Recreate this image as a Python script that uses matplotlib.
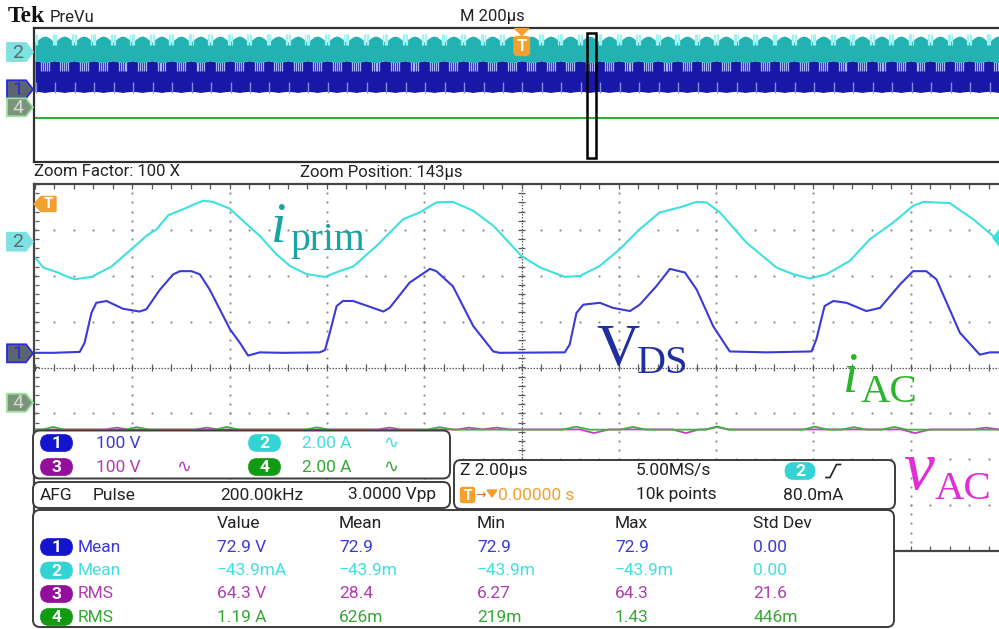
import numpy as np
import matplotlib.pyplot as plt
from matplotlib.patches import FancyBboxPatch, Polygon, Rectangle

UI_FONT = ['Roboto', 'DejaVu Sans']
SERIF = ['Liberation Serif', 'DejaVu Serif']

# channel settings: units per division and ground marker position (divisions from centre)
ch1_scale, ch1_pos = 100.0, 0.32    # V_DS
ch2_scale, ch2_pos = 2.0, 2.76      # i_prim
ch3_scale, ch3_pos = 100.0, -1.35   # v_AC
ch4_scale, ch4_pos = 2.0, -0.76     # i_AC
zoom_tdiv = 2.0                     # us/div in the zoom window

# zoom window traces, time in us from the trigger
vds_t = [-10.04, -9.63, -9.08, -8.98, -8.84, -8.74, -8.53, -8.19, -7.85, -7.71,
         -7.43, -7.16, -7.02, -6.78, -6.61, -6.41, -5.99, -5.79, -5.62, -5.38,
         -4.90, -4.15, -4.04, -3.94, -3.80, -3.67, -3.46, -2.84, -2.71, -2.30,
         -1.88, -1.75, -1.41, -0.99, -0.58, -0.45, 0.89, 0.99, 1.13, 1.27,
         1.61, 1.88, 2.23, 2.43, 2.77, 3.05, 3.36, 3.60, 3.94, 4.28,
         5.04, 5.96, 6.06, 6.23, 6.41, 6.68, 7.09, 7.37, 7.78, 8.05,
         8.32, 8.53, 9.01, 9.42, 9.63, 9.83]
vds_v = [0, 0, 2, 22, 87, 109, 113, 96, 90, 95,
         138, 171, 178, 178, 171, 138, 51, 22, -6, 1,
         0, 1, 6, 44, 102, 113, 113, 90, 98, 153,
         183, 178, 145, 58, 3, 0, 1, 18, 87, 105,
         109, 98, 91, 105, 145, 183, 175, 138, 58, 3,
         1, 3, 29, 102, 113, 109, 91, 98, 149, 178,
         178, 160, 44, -4, 1, 1]

iprim_t = [-10.04, -9.83, -9.53, -9.35, -9.18, -8.84, -8.43, -7.98, -7.71, -7.50,
           -7.26, -6.92, -6.72, -6.54, -6.34, -6.00, -5.65, -5.38, -5.04, -4.76,
           -4.42, -4.04, -3.73, -3.46, -2.98, -2.43, -2.09, -1.75, -1.41, -0.99,
           -0.58, -0.45, 0.00, 0.38, 0.89, 1.20, 1.61, 2.02, 2.43, 2.84,
           3.25, 3.60, 3.80, 4.08, 4.62, 5.24, 5.58, 5.93, 6.27, 6.75,
           7.16, 7.64, 8.05, 8.26, 8.80, 9.28, 9.69, 9.83]
iprim_a = [-0.62, -1.16, -1.38, -1.55, -1.67, -1.57, -1.12, -0.29, 0.22, 0.51,
           1.12, 1.41, 1.60, 1.75, 1.70, 1.41, 0.73, 0.22, -0.58, -1.09,
           -1.45, -1.57, -1.31, -1.12, -0.22, 0.95, 1.24, 1.68, 1.70, 1.31,
           0.66, 0.37, -0.66, -1.16, -1.57, -1.53, -1.09, -0.36, 0.51, 1.24,
           1.46, 1.70, 1.68, 1.24, -0.07, -1.16, -1.45, -1.64, -1.45, -0.87,
           0.07, 0.80, 1.53, 1.70, 1.65, 0.95, 0.22, 0.07]

iac_t = [-10.0, -9.85, -9.63, -9.4, -8.15, -7.91, -7.65, -6.3, -6.06, -5.8,
         -4.45, -4.21, -3.95, -1.95, -1.68, -1.4, 0.85, 1.12, 1.4, 2.02,
         2.29, 2.56, 3.78, 4.02, 4.26, 5.78, 6.03, 6.3, 6.58, 6.83,
         7.1, 7.4, 7.66, 7.92, 9.9]
iac_a = [-1.19, -1.19, -1.07, -1.19, -1.19, -1.08, -1.19, -1.19, -1.07, -1.19,
         -1.19, -1.09, -1.19, -1.19, -1.08, -1.19, -1.19, -1.06, -1.19, -1.19,
         -1.07, -1.19, -1.19, -1.05, -1.19, -1.19, -1.06, -1.19, -1.19, -1.08,
         -1.19, -1.19, -1.07, -1.19, -1.19]

vac_t = [-10.0, -8.55, -8.32, -8.1, -6.7, -6.47, -6.25, -2.95, -2.71, -2.5,
         -1.3, -1.08, -0.8, -0.51, -0.25, 1.2, 1.49, 1.8, 3.1, 3.38,
         3.65, 3.8, 4.02, 4.25, 7.8, 8.09, 8.4, 9.3, 9.55, 9.8]
vac_v = [0, 0, 4, 0, 0, 4, 0, 0, 4, 0,
         0, 4, 0, 4, 0, 0, -8, 0, 0, -8,
         0, 0, 5, 0, 0, -8, 0, 0, 4, 0]

# overview (PreVu) record: one envelope cell, repeated across the 10 divisions
ov_cycles = 50
ov_phase = [0.0, 0.2, 0.35, 0.5, 0.65, 0.8, 1.0]
ov_cyan_top = [3.15, 3.35, 3.47, 3.52, 3.47, 3.35, 3.15]
ov_cyan_bot = [2.05, 2.0, 1.95, 1.93, 1.95, 2.0, 2.05]
ov_blue_bot = [0.22, 0.2, 0.18, 0.15, 0.18, 0.2, 0.22]
ov_fringe_phase = [0.9, 0.96, 0.04, 0.1]
ov_mid_phase = [0.3, 0.4, 0.5, 0.6, 0.7]
ov_spike_phase = [0.05]
ov_ch4_level = -1.39
ov_zoom_box = (5.67, 5.77)

# measurement table
meas_chan = ['1', '2', '3', '4']
meas_type = ['Mean', 'Mean', 'RMS', 'RMS']
meas_value = ['72.9 V', '\u221243.9mA', '64.3 V', '1.19 A']
meas_mean = ['72.9', '\u221243.9m', '28.4', '626m']
meas_min = ['72.9', '\u221243.9m', '6.27', '219m']
meas_max = ['72.9', '\u221243.9m', '64.3', '1.43']
meas_std = ['0.00', '0.00', '21.6', '446m']

C1, C2, C3, C4 = '#3a3ad8', '#3fe0e0', '#b03cb0', '#35a835'
P1, P2, P3, P4 = '#1414d0', '#34d4d4', '#930f9b', '#129a12'
ORANGE = '#f2a030'

W, H = 999, 629
fig = plt.figure(figsize=(W / 100, H / 100), dpi=100)

# ---- zoom graticule ----
ax_z = fig.add_axes([35 / W, 1 - 551 / H, 973 / W, 367 / H])
ax_z.set_xlim(-5, 5)
ax_z.set_ylim(-4, 4)
ax_z.axis('off')

minor_x = np.arange(-5, 5.001, 0.2)
minor_y = np.arange(-4, 4.001, 0.2)
dot = dict(s=2.4, color='#8a8a8a', lw=0, zorder=1)
for gx in range(-4, 5):
    if gx != 0:
        ax_z.scatter(np.full_like(minor_y, gx), minor_y, **dot)
for gy in range(-3, 4):
    if gy != 0:
        ax_z.scatter(minor_x, np.full_like(minor_x, gy), **dot)
grid_c = '#5a5a5a'
ax_z.plot([-5, 5], [0, 0], color=grid_c, lw=0.9, ls=(0, (1.2, 1.2)), zorder=1)
ax_z.vlines(minor_x, -0.07, 0.07, color=grid_c, lw=0.9, zorder=1)
ax_z.plot([0, 0], [-4, 4], color=grid_c, lw=0.9, ls=(0, (1.2, 1.2)), zorder=1)
ax_z.hlines(minor_y, -0.035, 0.035, color=grid_c, lw=0.9, zorder=1)
ax_z.hlines(minor_y, -5, -4.955, color=grid_c, lw=0.9, zorder=1)
ax_z.vlines(minor_x, 3.9, 4, color=grid_c, lw=0.9, zorder=1)
ax_z.vlines(minor_x, -4, -3.9, color=grid_c, lw=0.9, zorder=1)
frame = dict(color='#454545', lw=1.6, clip_on=False, zorder=2)
ax_z.plot([-5.01, 5.2], [4, 4], **frame)
ax_z.plot([-5.01, 5.2], [-4, -4], **frame)
ax_z.plot([-5.01, -5.01], [-4, 4], **frame)

zt = lambda t: np.array(t) / zoom_tdiv
ax_z.plot(zt(vac_t), np.array(vac_v) / ch3_scale + ch3_pos, color='#c83cc8', lw=1.3, zorder=3)
ax_z.plot(zt(iac_t), np.array(iac_a) / ch4_scale + ch4_pos, color='#3cb43c', lw=1.3, zorder=3)
ax_z.plot(zt(vds_t), np.array(vds_v) / ch1_scale + ch1_pos, color=C1, lw=1.5, zorder=4)
ax_z.plot(zt(iprim_t), np.array(iprim_a) / ch2_scale + ch2_pos, color=C2, lw=1.5, zorder=4)

# ---- overview record ----
ax_o = fig.add_axes([35 / W, 1 - 162 / H, 973 / W, 134 / H])
ax_o.set_xlim(0, 10)
ax_o.set_ylim(-4, 4)
ax_o.axis('off')

period = 10.0 / ov_cycles
cyc = np.arange(ov_cycles)
ov_x = ((cyc[:, None] + np.array(ov_phase)[None, :]) * period).ravel()
tile = lambda v: np.tile(v, ov_cycles)
at_phase = lambda ph: ((cyc[:, None] + np.array(ph)[None, :]) * period).ravel()

ax_o.fill_between(ov_x, tile(ov_blue_bot), tile(ov_cyan_bot), color='#1818a8', lw=0, zorder=1)
ax_o.vlines(at_phase(ov_mid_phase), 1.45, 2.1, color='#a9b2f2', lw=0.9, zorder=2)
ax_o.vlines(at_phase(ov_spike_phase), 0.12, 0.75, color='#7f88ee', lw=1.0, zorder=2)
ax_o.fill_between(ov_x, tile(ov_cyan_bot), tile(ov_cyan_top), color='#22b2b2', lw=0, zorder=3)
ax_o.vlines(at_phase(ov_fringe_phase), 3.0, 3.62, color='#9ff2f2', lw=0.9, zorder=4)
ax_o.plot([0, 10], [ov_ch4_level, ov_ch4_level], color='#30b030', lw=1.5, zorder=3)
ax_o.add_patch(Rectangle((ov_zoom_box[0], -3.76), ov_zoom_box[1] - ov_zoom_box[0], 7.46,
                         fill=False, ec='black', lw=1.8, zorder=5))
oframe = dict(color='#303030', lw=1.6, clip_on=False, zorder=5)
ax_o.plot([-0.01, 10.2], [4, 4], **oframe)
ax_o.plot([-0.01, 10.2], [-4, -4], **oframe)
ax_o.plot([-0.01, -0.01], [-4, 4], **oframe)

# ---- overlay: readouts, markers and labels in pixel coordinates ----
ax = fig.add_axes([0, 0, 1, 1], zorder=10)
ax.set_xlim(0, W)
ax.set_ylim(H, 0)
ax.axis('off')
ax.patch.set_alpha(0)


def txt(x, y, s, color='#222222', size=12.5, **kw):
    ax.text(x, y, s, color=color, fontsize=size, family=UI_FONT, va='center', ha='left', **kw)


def panel(x0, y0, x1, y1, r=7):
    ax.add_patch(FancyBboxPatch((x0, y0), x1 - x0, y1 - y0,
                                boxstyle=f'round,pad=0,rounding_size={r}',
                                fc='white', ec='#3c3c3c', lw=1.4, zorder=1))


def pill(xc, yc, label, color, w=32, h=17):
    ax.add_patch(FancyBboxPatch((xc - w / 2, yc - h / 2), w, h,
                                boxstyle=f'round,pad=0,rounding_size={h / 2}',
                                fc=color, ec=color, lw=0.5, zorder=2))
    ax.text(xc, yc + 0.5, label, color='white', fontsize=12.5, fontweight='bold',
            family=UI_FONT, ha='center', va='center', zorder=3)


def marker(yc, label, face, edge, tcol, x0=7, w=26, h=18):
    tip = 7
    pts = [(x0, yc - h / 2), (x0 + w - tip, yc - h / 2), (x0 + w, yc),
           (x0 + w - tip, yc + h / 2), (x0, yc + h / 2)]
    ax.add_patch(Polygon(pts, closed=True, fc=face, ec=edge, lw=1.3, zorder=2))
    ax.text(x0 + (w - tip) / 2 + 1, yc + 0.5, label, color=tcol, fontsize=14,
            family=UI_FONT, ha='center', va='center', zorder=3)


# header
ax.text(8, 17, 'Tek', fontsize=17, fontweight='bold', family=SERIF, va='center', color='#111111')
txt(50, 17, 'PreVu', size=12)
txt(460, 17, 'M 200\u00b5s', size=12)
txt(34, 172, 'Zoom Factor: 100 X', size=12)
txt(300, 172, 'Zoom Position: 143\u00b5s', size=12)

# channel markers
for yc in (52, 241.7):
    marker(yc, '2', '#7fe2e2', '#7fe2e2', '#5e6a6a')
for yc in (89.3, 353.3):
    marker(yc, '1', '#5c6470', '#2a2ae6', '#2a2ae6')
for yc in (107.3, 402.7):
    marker(yc, '4', '#7c947c', '#9be29b', '#d0dcd0')

# trigger markers
ax.add_patch(Polygon([(514.5, 28.5), (529, 28.5), (521.7, 35)], closed=True, fc=ORANGE, ec=ORANGE, zorder=6))
ax.add_patch(FancyBboxPatch((514, 36.5), 15.5, 19, boxstyle='round,pad=0,rounding_size=3',
                            fc=ORANGE, ec=ORANGE, zorder=6))
ax.text(521.8, 46.5, 'T', color='white', fontsize=12, fontweight='bold', family=UI_FONT,
        ha='center', va='center', zorder=7)
ax.add_patch(Polygon([(34, 204), (41, 196.5), (56, 196.5), (56, 211.5), (41, 211.5)],
                     closed=True, fc=ORANGE, ec=ORANGE, zorder=6))
ax.text(48, 204.5, 'T', color='white', fontsize=11, fontweight='bold', family=UI_FONT,
        ha='center', va='center', zorder=7)
ax.add_patch(Polygon([(993, 238), (1000, 229), (1000, 247)], closed=True, fc=C2, ec=C2, zorder=6))

# vertical / horizontal settings box
panel(33, 430.5, 450, 478.5)
pill(56.5, 443, '1', P1)
txt(96, 443, '100 V', C1)
pill(264.5, 443, '2', P2)
txt(302, 443, '2.00 A', C2)
txt(383, 443, '\u223f', C2, size=13)
pill(56.5, 467, '3', P3)
txt(96, 467, '100 V', C3)
txt(176, 467, '\u223f', C3, size=13)
pill(264.5, 467, '4', P4)
txt(302, 467, '2.00 A', C4)
txt(383, 467, '\u223f', C4, size=13)

# AFG box
panel(33, 482, 450, 508)
txt(40, 495, 'AFG')
txt(93, 495, 'Pulse')
txt(220, 495, '200.00kHz')
txt(348, 495, '3.0000 Vpp')

# timebase / trigger box
panel(454, 460, 895, 509)
txt(460, 471, 'Z 2.00\u00b5s')
txt(636, 471, '5.00MS/s')
pill(800, 471, '2', P2, w=30)
ax.plot([826, 830, 836.5, 840.5], [477.5, 477.5, 464.5, 464.5], color='#222222', lw=1.2, zorder=3)
ax.add_patch(FancyBboxPatch((460.5, 487.5), 14, 15, boxstyle='round,pad=0,rounding_size=2',
                            fc=ORANGE, ec=ORANGE, zorder=2))
ax.text(467.5, 495.5, 'T', color='white', fontsize=10, fontweight='bold', family=UI_FONT,
        ha='center', va='center', zorder=3)
txt(475, 495, '\u2192', '#e07020', size=9)
ax.add_patch(Polygon([(487, 490), (497, 490), (492, 497)], closed=True, fc=ORANGE, ec=ORANGE, zorder=3))
txt(498, 495.5, '0.00000 s', ORANGE)
txt(636, 495, '10k points')
txt(783, 495, '80.0mA')

# measurement table
panel(33, 510, 894, 627)
row_y = [547, 570.5, 594, 617]
chan_txt = [C1, C2, C3, C4]
chan_pill = [P1, P2, P3, P4]
for x, head in zip([217, 339, 477, 615, 753], ['Value', 'Mean', 'Min', 'Max', 'Std Dev']):
    txt(x, 524, head)
for i, y in enumerate(row_y):
    pill(56.5, y, meas_chan[i], chan_pill[i])
    txt(78, y, meas_type[i], chan_txt[i])
    for x, col in zip([217, 339, 477, 615, 753], [meas_value, meas_mean, meas_min, meas_max, meas_std]):
        txt(x, y, col[i], chan_txt[i])

# waveform labels
lab = dict(family=SERIF, va='baseline', ha='left', zorder=8)
ax.text(271, 242, 'i', fontsize=40, style='italic', color='#18a4a4', **lab)
ax.text(290, 250, 'prim', fontsize=28.5, color='#18a4a4', **lab)
ax.text(596, 365, 'V', fontsize=43, color='#1f2f9f', **lab)
ax.text(637, 373, 'DS', fontsize=29, color='#1f2f9f', **lab)
ax.text(843, 392, 'i', fontsize=40, style='italic', color='#2cb52c', **lab)
ax.text(861, 402, 'AC', fontsize=29.5, color='#2cb52c', **lab)
ax.text(903, 489, 'v', fontsize=50, style='italic', color='#e22ed6', **lab)
ax.text(935, 499, 'AC', fontsize=29.5, color='#e22ed6', **lab)

fig.savefig('out.png', dpi=100)
